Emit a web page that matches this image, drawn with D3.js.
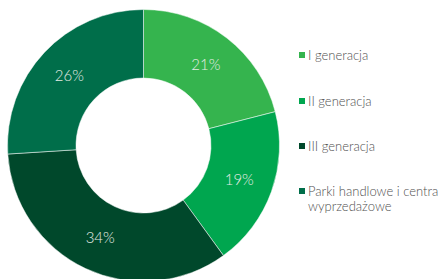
<!DOCTYPE html>
<html>
<head>
<meta charset="utf-8">
<script src="https://cdn.jsdelivr.net/npm/d3@7"></script>
<style>
  body { margin: 0; background: #fff; }
  text { font-family: "Lato", "Open Sans", sans-serif; }
</style>
</head>
<body>
<div id="chart"></div>
<script>
const categories = ["I generacja", "II generacja", "III generacja", "Parki handlowe i centra wyprzedażowe"];
const values = [21, 19, 34, 26];
const colors = ["#35b44e", "#00a64f", "#00482b", "#006e4a"];

const width = 444, height = 279;
const cx = 143.5, cy = 145.5;
const outerR = 136, innerR = 67.5;

const svg = d3.select("#chart")
    .append("svg")
    .attr("width", width)
    .attr("height", height);

const data = categories.map((c, i) => ({ category: c, value: values[i], color: colors[i] }));

const pie = d3.pie().value(d => d.value).sort(null);
const arc = d3.arc().innerRadius(innerR).outerRadius(outerR);

const g = svg.append("g").attr("transform", `translate(${cx},${cy})`);

const slices = g.selectAll("g.slice")
    .data(pie(data))
    .enter()
    .append("g")
    .attr("class", "slice");

slices.append("path")
    .attr("d", arc)
    .attr("fill", d => d.data.color)
    .attr("stroke", "#fff")
    .attr("stroke-width", 0.5);

slices.append("text")
    .attr("transform", d => `translate(${arc.centroid(d)})`)
    .attr("text-anchor", "middle")
    .attr("dy", "0.35em")
    .attr("fill", "#e4ece4")
    .style("font-size", "15px")
    .style("font-weight", 300)
    .text(d => d.data.value + "%");

// legend
const legend = svg.append("g").attr("transform", "translate(299,0)");
const rowY = [55, 101, 146, 191];

const items = legend.selectAll("g.item")
    .data(data)
    .enter()
    .append("g")
    .attr("class", "item")
    .attr("transform", (d, i) => `translate(0,${rowY[i]})`);

items.append("rect")
    .attr("x", 0)
    .attr("y", -3)
    .attr("width", 6)
    .attr("height", 6)
    .attr("fill", d => d.color);

items.append("text")
    .attr("x", 9)
    .attr("y", 0)
    .attr("dy", "0.35em")
    .attr("fill", "#505050")
    .style("font-size", "13px")
    .style("font-weight", 300)
    .each(function(d) {
        const t = d3.select(this);
        if (d.category.length > 24) {
            // wrap the long label onto two lines
            const cut = d.category.lastIndexOf(" ");
            t.append("tspan").attr("x", 9).text(d.category.slice(0, cut));
            t.append("tspan").attr("x", 9).attr("dy", 15).text(d.category.slice(cut + 1));
        } else {
            t.text(d.category);
        }
    });
</script>
</body>
</html>
